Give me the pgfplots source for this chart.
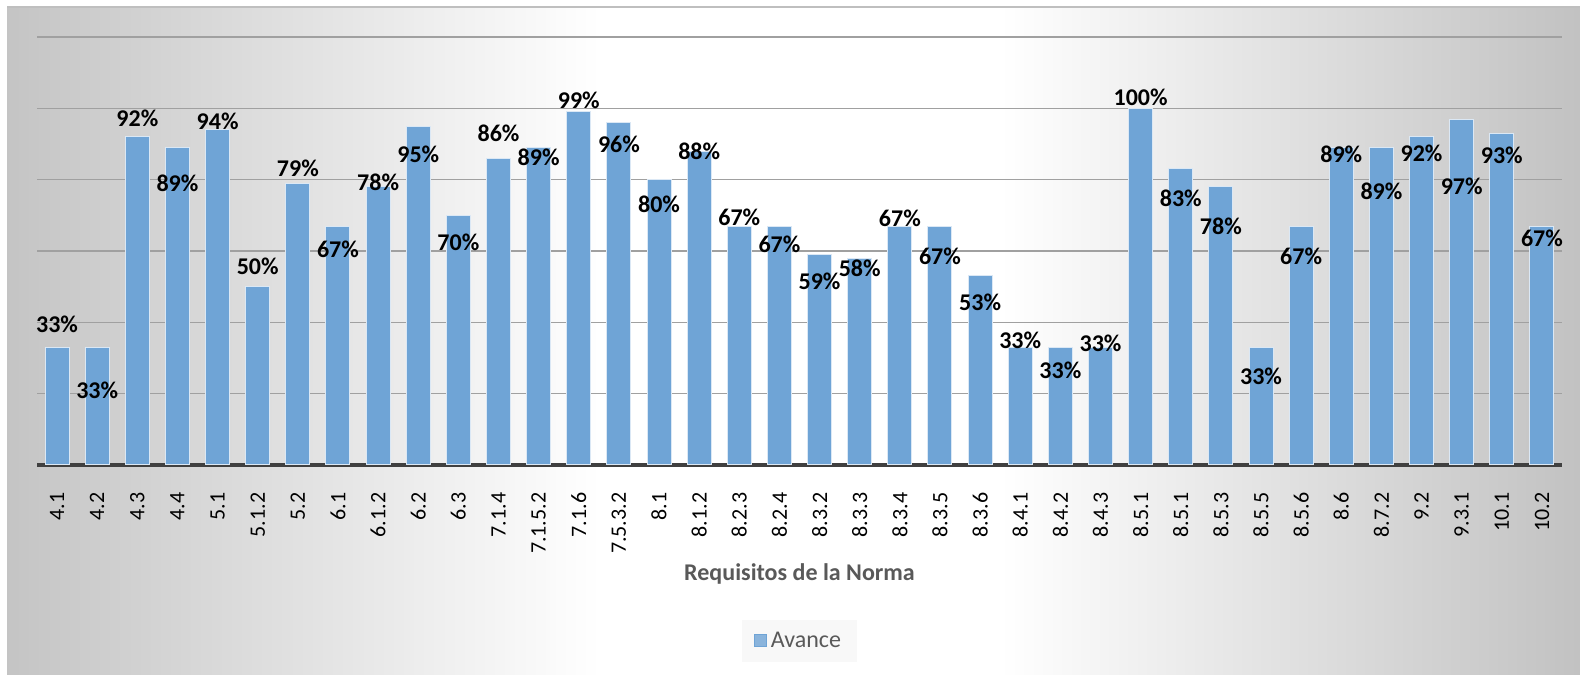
\documentclass[border=0pt]{standalone}
\usepackage{fontspec}
\setmainfont{Carlito}
\usepackage{pgfplots}
\usepackage{pgfplotstable}
\pgfplotsset{compat=1.18}

\definecolor{barblue}{RGB}{111,164,214}
\definecolor{gridgray}{RGB}{160,160,160}
\definecolor{axisdark}{RGB}{64,64,64}
\definecolor{txtgray}{RGB}{89,89,89}
\definecolor{bgL}{gray}{0.77}
\definecolor{bgR}{gray}{0.76}

% idx, etiqueta, avance (%), desplazamiento de la etiqueta (px, + arriba)
\pgfplotstableread{
idx lab val off
0 4.1 33 23
1 4.2 33 -43
2 4.3 92 19
3 4.4 89 -36
4 5.1 94 8
5 5.1.2 50 20
6 5.2 79 15
7 6.1 67 -23
8 6.1.2 78 4
9 6.2 95 -28
10 6.3 70 -27
11 7.1.4 86 25
12 7.1.5.2 89 -10
13 7.1.6 99 12
14 7.5.3.2 96 -22
15 8.1 80 -25
16 8.1.2 88 0
17 8.2.3 67 9
18 8.2.4 67 -18
19 8.3.2 59 -27
20 8.3.3 58 -10
21 8.3.4 67 8
22 8.3.5 67 -30
23 8.3.6 53 -26
24 8.4.1 33 7
25 8.4.2 33 -23
26 8.4.3 33 4
27 8.5.1 100 11
28 8.5.1 83 -29
29 8.5.3 78 -40
30 8.5.5 33 -29
31 8.5.6 67 -30
32 8.6 89 -7
33 8.7.2 89 -44
34 9.2 92 -16
35 9.3.1 97 -67
36 10.1 93 -22
37 10.2 67 -12
}\datos

\begin{document}
\begin{tikzpicture}
% fondo: degradado horizontal, blanco en el centro
\fill[white] (0,0) rectangle (790pt,339pt);
\useasboundingbox (0,0) rectangle (790pt,339pt);
\shade[left color=bgL, right color=white] (3.5pt,1.5pt) rectangle (300.5pt,335.5pt);
\fill[white] (300pt,1.5pt) rectangle (500.5pt,335.5pt);
\shade[left color=white, right color=bgR] (500pt,1.5pt) rectangle (790pt,335.5pt);
\draw[gray!50, line width=0.8pt] (3.5pt,335.5pt) -- (790pt,335.5pt);

\begin{axis}[
    at={(18.5pt,106.5pt)}, anchor=south west,
    scale only axis,
    width=762.5pt, height=214pt,
    ybar, bar width=12pt,
    xmin=-0.5, xmax=37.5,
    ymin=0, ymax=120,
    axis line style={draw=none},
    xtick=data,
    xticklabels from table={\datos}{lab},
    xtick style={draw=none},
    xticklabel shift=6pt,
    xticklabel style={rotate=90, anchor=east,
        font=\fontsize{11}{13}\selectfont, text=black},
    ytick={20,40,...,120},
    yticklabels={},
    ytick style={draw=none},
    extra y ticks={0},
    extra y tick labels={},
    extra y tick style={grid style={draw=axisdark, line width=1.6pt}},
    ymajorgrids,
    grid style={draw=gridgray, line width=0.6pt},
    xlabel={Requisitos de la Norma},
    xlabel style={at={(axis description cs:0.5,-0.255)}, anchor=center,
        font=\bfseries\fontsize{12}{14}\selectfont, text=txtgray},
    legend style={at={(0.5,-0.411)}, anchor=center, draw=none,
        fill=white!94!gray, fill opacity=0.8, text opacity=1,
        font=\fontsize{12}{14}\selectfont, text=txtgray,
        inner xsep=6pt, inner ysep=4pt},
    legend image code/.code={\fill[barblue] (0pt,-3pt) rectangle (6pt,3pt);},
    visualization depends on={\thisrow{off} \as \off},
    point meta=y,
    nodes near coords={\pgfmathprintnumber[fixed,precision=0,assume math mode=true]{\pgfplotspointmeta}\%},
    nodes near coords style={anchor=center, yshift=\off*0.5pt,
        font=\bfseries\fontsize{12}{14}\selectfont, text=black},
]
\addplot[fill=barblue, draw=white!75!barblue, line width=0.5pt] table[x=idx, y=val] {\datos};
\legend{Avance}
\end{axis}
\end{tikzpicture}
\end{document}
